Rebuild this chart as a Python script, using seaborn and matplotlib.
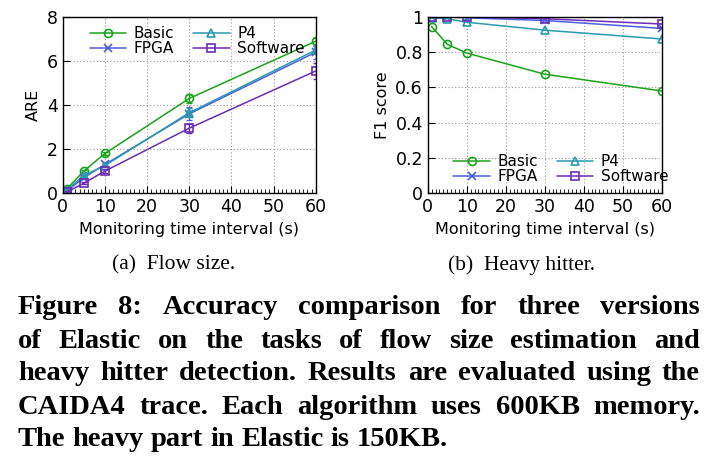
import matplotlib
matplotlib.use("Agg")
import matplotlib.pyplot as plt
import numpy as np
import pandas as pd
import seaborn as sns
from matplotlib.ticker import MultipleLocator, FormatStrFormatter

# --- data -----------------------------------------------------------------
intervals = [1, 5, 10, 30, 60]
versions = ["Basic", "FPGA", "P4", "Software"]

are_basic = [0.2, 1.0, 1.8, 4.3, 6.9]
are_fpga = [0.1, 0.7, 1.3, 3.6, 6.4]
are_p4 = [0.15, 0.8, 1.25, 3.65, 6.5]
are_software = [0.05, 0.45, 1.0, 2.95, 5.55]

are_err_basic = [0.03, 0.05, 0.08, 0.2, 0.15]
are_err_fpga = [0.03, 0.05, 0.08, 0.3, 0.3]
are_err_p4 = [0.03, 0.05, 0.08, 0.2, 0.2]
are_err_software = [0.03, 0.05, 0.08, 0.2, 0.35]

f1_basic = [0.945, 0.845, 0.795, 0.675, 0.58]
f1_fpga = [1.0, 1.0, 0.995, 0.98, 0.935]
f1_p4 = [0.995, 0.99, 0.97, 0.925, 0.875]
f1_software = [1.0, 1.0, 1.0, 0.99, 0.96]

subcaptions = ["(a)  Flow size.", "(b)  Heavy hitter."]
caption_lines = [
    "Figure 8: Accuracy comparison for three versions",
    "of Elastic on the tasks of flow size estimation and",
    "heavy hitter detection. Results are evaluated using the",
    "CAIDA4 trace. Each algorithm uses 600KB memory.",
    "The heavy part in Elastic is 150KB.",
]

colors = {"Basic": "#1aa31a", "FPGA": "#4b5fe0", "P4": "#2a9aad", "Software": "#6a2cb5"}
markers = {"Basic": "o", "FPGA": "x", "P4": "^", "Software": "s"}

are_df = pd.DataFrame({
    "interval": intervals * 4,
    "value": are_basic + are_fpga + are_p4 + are_software,
    "err": are_err_basic + are_err_fpga + are_err_p4 + are_err_software,
    "version": np.repeat(versions, len(intervals)),
})
f1_df = pd.DataFrame({
    "interval": intervals * 4,
    "value": f1_basic + f1_fpga + f1_p4 + f1_software,
    "version": np.repeat(versions, len(intervals)),
})

sns.set_style("ticks")
plt.rcParams["font.family"] = ["DejaVu Sans"]
plt.rcParams["xtick.direction"] = "in"
plt.rcParams["ytick.direction"] = "in"
plt.rcParams["text.color"] = "black"
plt.rcParams["axes.labelcolor"] = "black"
plt.rcParams["xtick.color"] = "black"
plt.rcParams["ytick.color"] = "black"

fig = plt.figure(figsize=(7.13, 4.71), dpi=100)
ax1 = fig.add_axes([0.088, 0.590, 0.355, 0.374])
ax2 = fig.add_axes([0.600, 0.590, 0.328, 0.374])

legend_kw = dict(ncol=2, frameon=False, fontsize=11, handlelength=2.4,
                 columnspacing=1.2, labelspacing=0.0, handletextpad=0.5,
                 borderaxespad=0.2)


def draw_panel(ax, df, ylabel, with_err):
    for v in versions:
        sub = df[df["version"] == v]
        sns.lineplot(
            data=sub, x="interval", y="value", ax=ax, color=colors[v],
            marker=markers[v], markersize=5.8, markerfacecolor="none",
            markeredgecolor=colors[v], markeredgewidth=1.2, linewidth=1.1,
            label=v, errorbar=None,
        )
        if with_err:
            ax.errorbar(sub["interval"], sub["value"], yerr=sub["err"], fmt="none",
                        ecolor=colors[v], elinewidth=1.0, capsize=2.5)
    ax.set_xlim(0, 60)
    ax.xaxis.set_major_locator(MultipleLocator(10))
    ax.xaxis.set_minor_locator(MultipleLocator(1))
    ax.grid(True, which="major", linestyle=(0, (1, 2)), color="#999999", linewidth=0.8)
    ax.tick_params(which="major", length=5, labelsize=12.5)
    ax.tick_params(which="minor", length=3)
    ax.tick_params(axis="y", which="minor", left=False)
    ax.set_xlabel("Monitoring time interval (s)", fontsize=11.5)
    ax.set_ylabel(ylabel, fontsize=11.5)
    for s in ax.spines.values():
        s.set_linewidth(1.0)
        s.set_color("black")


draw_panel(ax1, are_df, "ARE", True)
ax1.set_ylim(0, 8)
ax1.yaxis.set_major_locator(MultipleLocator(2))
ax1.legend(loc="upper left", bbox_to_anchor=(0.07, 1.0), **legend_kw)

draw_panel(ax2, f1_df, "F1 score", False)
ax2.set_ylim(0, 1)
ax2.yaxis.set_major_locator(MultipleLocator(0.2))
ax2.yaxis.set_major_formatter(FormatStrFormatter("%g"))
ax2.legend(loc="lower left", bbox_to_anchor=(0.07, 0.0), **legend_kw)

# sub captions
fig.text(174 / 713, 1 - 265 / 471, subcaptions[0], ha="center", va="center",
         fontsize=15.5, family="Liberation Serif")
fig.text(521 / 713, 1 - 265 / 471, subcaptions[1], ha="center", va="center",
         fontsize=15.5, family="Liberation Serif")

# justified bold caption
left_px, right_px = 18, 700
line_y = [307, 341, 374, 407, 440]
cap_size = 20.5
renderer = fig.canvas.get_renderer()
W, H = fig.bbox.width, fig.bbox.height
for i, line in enumerate(caption_lines):
    words = line.split(" ")
    y = 1 - line_y[i] / 471
    texts = [fig.text(0, y, w, ha="left", va="center", fontsize=cap_size,
                      family="Liberation Serif", weight="bold") for w in words]
    widths = [t.get_window_extent(renderer).width for t in texts]
    if i < len(caption_lines) - 1:
        gap = (right_px - left_px - sum(widths)) / (len(words) - 1)
    else:
        space = fig.text(0, 0, "a a", fontsize=cap_size, family="Liberation Serif", weight="bold")
        aa = fig.text(0, 0, "aa", fontsize=cap_size, family="Liberation Serif", weight="bold")
        gap = space.get_window_extent(renderer).width - aa.get_window_extent(renderer).width
        space.remove()
        aa.remove()
    x = left_px
    for t, w in zip(texts, widths):
        t.set_x(x / W)
        x += w + gap

fig.savefig("out.png", dpi=100)
